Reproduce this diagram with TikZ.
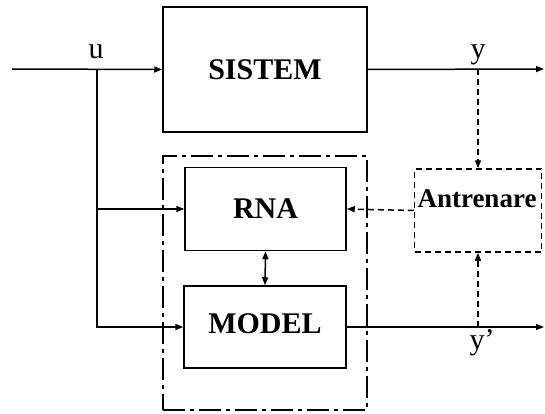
\documentclass[tikz,border=0pt]{standalone}
\usepackage{fontspec}
\setmainfont{Liberation Serif}
\usetikzlibrary{arrows.meta}

\begin{document}
\begin{tikzpicture}[
	x=1pt, y=-1pt,
	b/.style = {rectangle, draw=black, line width=1.5pt, inner sep=0pt, font=\fontsize{30}{31}\selectfont\bfseries},
	l/.style = {font=\fontsize{30}{31}\selectfont, inner sep=0pt},
	r/.style = {-{Triangle[length=8pt, width=6pt]}, line width=1.5pt},
	d/.style = {r, dash pattern=on 6pt off 4pt}
	]
	\useasboundingbox (0, 0) rectangle (545, 414);
	
	% === === === Nodes === === ===
	\node[b, minimum width=204, minimum height=125]	(sis)	at	(265, 69.5)	{SISTEM};
	\node[b, minimum width=161, minimum height=83]	(rna)	at	(265.5, 209)	{RNA};
	\node[b, minimum width=162, minimum height=82, text depth=7pt]	(mod)	at	(265, 327)	{MODEL};
	\node[b, minimum width=127, minimum height=83, text width=127pt, align=left, text depth=23pt, dash pattern=on 6pt off 4pt, font=\fontsize{27}{28}\selectfont\bfseries]	(ant)	at	(478, 210.5)	{\hspace*{3pt}Antrenare};
	
	\node[rectangle, draw=black, line width=1.5pt, minimum width=204, minimum height=254, dash pattern=on 22pt off 5pt on 4pt off 5pt]	(grp)	at	(265, 283)	{};
	
	\coordinate (in)	at	(12, 69);
	\coordinate (br)	at	(97, 69);
	\coordinate (ty)	at	(478, 69);
	\coordinate (out)	at	(544, 69);
	\coordinate (ty2)	at	(478, 327);
	\coordinate (out2)	at	(544, 327);
	
	\node[l]	(u)	at	(96, 52)	{u};
	\node[l]	(y)	at	(478, 55)	{y};
	\node[l]	(y2)	at	(482, 343)	{y’};
	
	
	
	% === === === Lines === === ===
	\draw[r] (in) to (sis.west);
	\draw[r] (sis.east) to (out);
	\draw[r] (br) |- (rna.west);
	\draw[r] (br) |- (mod.west);
	\draw[r] (mod.east) to (out2);
	\draw[r, {Triangle[length=8pt, width=6pt]}-{Triangle[length=8pt, width=6pt]}] (rna.south) to (mod.north);
	
	\draw[d] (ty) to (ant.north);
	\draw[d] (ty2) to (ant.south);
	\draw[d] (ant.west) to (rna.east);
	
	
\end{tikzpicture}
\end{document}
